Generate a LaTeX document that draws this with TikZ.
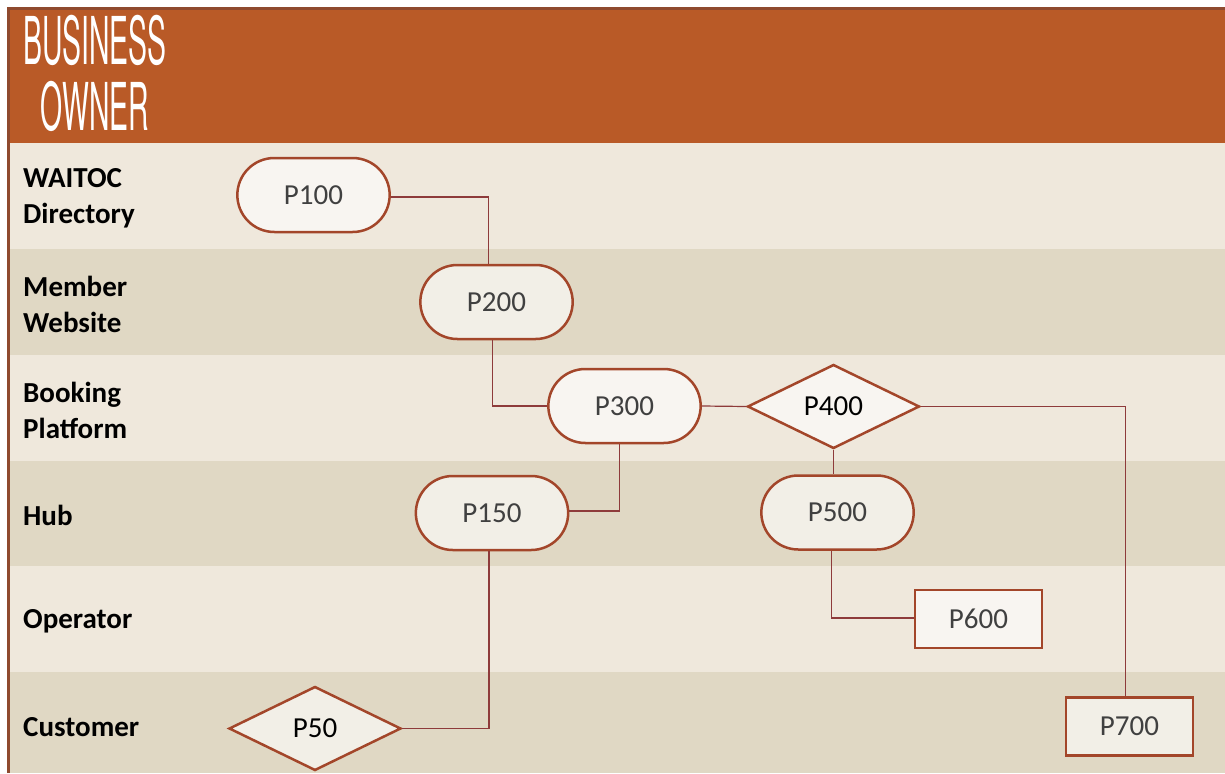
\documentclass[tikz,border=0pt]{standalone}
\usepackage{fontspec}
\setmainfont{Carlito}
\newfontfamily\hdrfont[FakeStretch=0.43]{TeX Gyre Heros}
\usetikzlibrary{shapes.misc,shapes.geometric,calc}
\definecolor{hdrorange}{HTML}{B95A27}
\definecolor{framebrown}{HTML}{8F4A2F}
\definecolor{lanelight}{HTML}{EFE8DC}
\definecolor{lanedark}{HTML}{E0D8C4}
\definecolor{nodeedge}{HTML}{A3462A}
\definecolor{connred}{HTML}{8E3B3B}
\definecolor{nodetext}{HTML}{404040}
\tikzset{
  stadium/.style={rounded rectangle, draw=nodeedge, line width=2.5pt, fill=white, fill opacity=0.6, text opacity=1,
    minimum width=159pt, minimum height=74pt, text=nodetext, font=\fontsize{29}{30}\selectfont},
  decision/.style={diamond, draw=nodeedge, line width=2.5pt, fill=white, fill opacity=0.6, text opacity=1,
    minimum width=172pt, minimum height=84pt, inner sep=0pt, text=black, font=\fontsize{29}{30}\selectfont},
  procbox/.style={rectangle, draw=nodeedge, line width=2.5pt, fill=white, fill opacity=0.6, text opacity=1,
    minimum width=127pt, minimum height=58pt, text=nodetext, font=\fontsize{29}{30}\selectfont},
  lanelabel/.style={anchor=west, align=left, inner sep=0pt, font=\bfseries\fontsize{29}{36}\selectfont},
  hdrtext/.style={anchor=base, inner sep=0pt, text=white, font=\hdrfont\fontsize{66}{66}\selectfont},
  conn/.style={draw=connred, line width=1.2pt},
}
\begin{document}
\begin{tikzpicture}[x=1pt,y=-1pt]
\useasboundingbox (0,0) rectangle (1225,773);
\fill[white] (0,0) rectangle (1225,773);
% frame and header
\fill[framebrown] (7,7) rectangle (1225,773);
\fill[hdrorange] (10,10) rectangle (1225,143);
% lanes
\fill[lanelight] (10,143) rectangle (1225,249);
\fill[lanedark]  (10,249) rectangle (1225,355);
\fill[lanelight] (10,355) rectangle (1225,461);
\fill[lanedark]  (10,461) rectangle (1225,566);
\fill[lanelight] (10,566) rectangle (1225,672);
\fill[lanedark]  (10,672) rectangle (1225,773);
% header text
\node[hdrtext] (hdr1) at (95,65) {BUSINESS};
\node[hdrtext] (hdr2) at (95,130) {OWNER};
% lane labels
\node[lanelabel] (l1) at (23,198) {WAITOC\\Directory};
\node[lanelabel] (l2) at (23,304) {Member\\Website};
\node[lanelabel] (l3) at (23,410) {Booking\\Platform};
\node[lanelabel] (l4) at (23,515) {Hub};
\node[lanelabel] (l5) at (23,621) {Operator};
\node[lanelabel] (l6) at (23,727) {Customer};
% node centres
\coordinate (c100) at (313.5,195);
\coordinate (c200) at (496.5,302);
\coordinate (c300) at (624.5,406);
\coordinate (c400) at (833.5,406.5);
\coordinate (c150) at (492,513);
\coordinate (c500) at (837.5,512.5);
\coordinate (c600) at (978.5,619);
\coordinate (c700) at (1129.5,726.5);
\coordinate (c50) at (315,728.5);
% nodes
\node[stadium] (p100) at (c100) {P100};
\node[stadium] (p200) at (c200) {P200};
\node[stadium] (p300) at (c300) {P300};
\node[decision] (p400) at (c400) {P400};
\node[stadium] (p150) at (c150) {P150};
\node[stadium] (p500) at (c500) {P500};
\node[procbox] (p600) at (c600) {P600};
\node[procbox] (p700) at (c700) {P700};
\node[decision] (p50) at (c50) {P50};
% connectors
\draw[conn] ([yshift=-2]p100.east) -| ([xshift=-8]p200.north);
\draw[conn] ([xshift=-4]p200.south) |- (p300.west);
\draw[conn] (p300.east) -- (p400.west);
\draw[conn] ([xshift=-5]p300.south) |- ([yshift=2]p150.east);
\draw[conn] (p400.south) -- (p400.south |- p500.north);
\draw[conn] (p400.east) -| ([xshift=-4]p700.north);
\draw[conn] ([xshift=-6]p500.south) |- ([yshift=1]p600.west);
\draw[conn] ([xshift=-3]p150.south) |- (p50.east);
\end{tikzpicture}
\end{document}
